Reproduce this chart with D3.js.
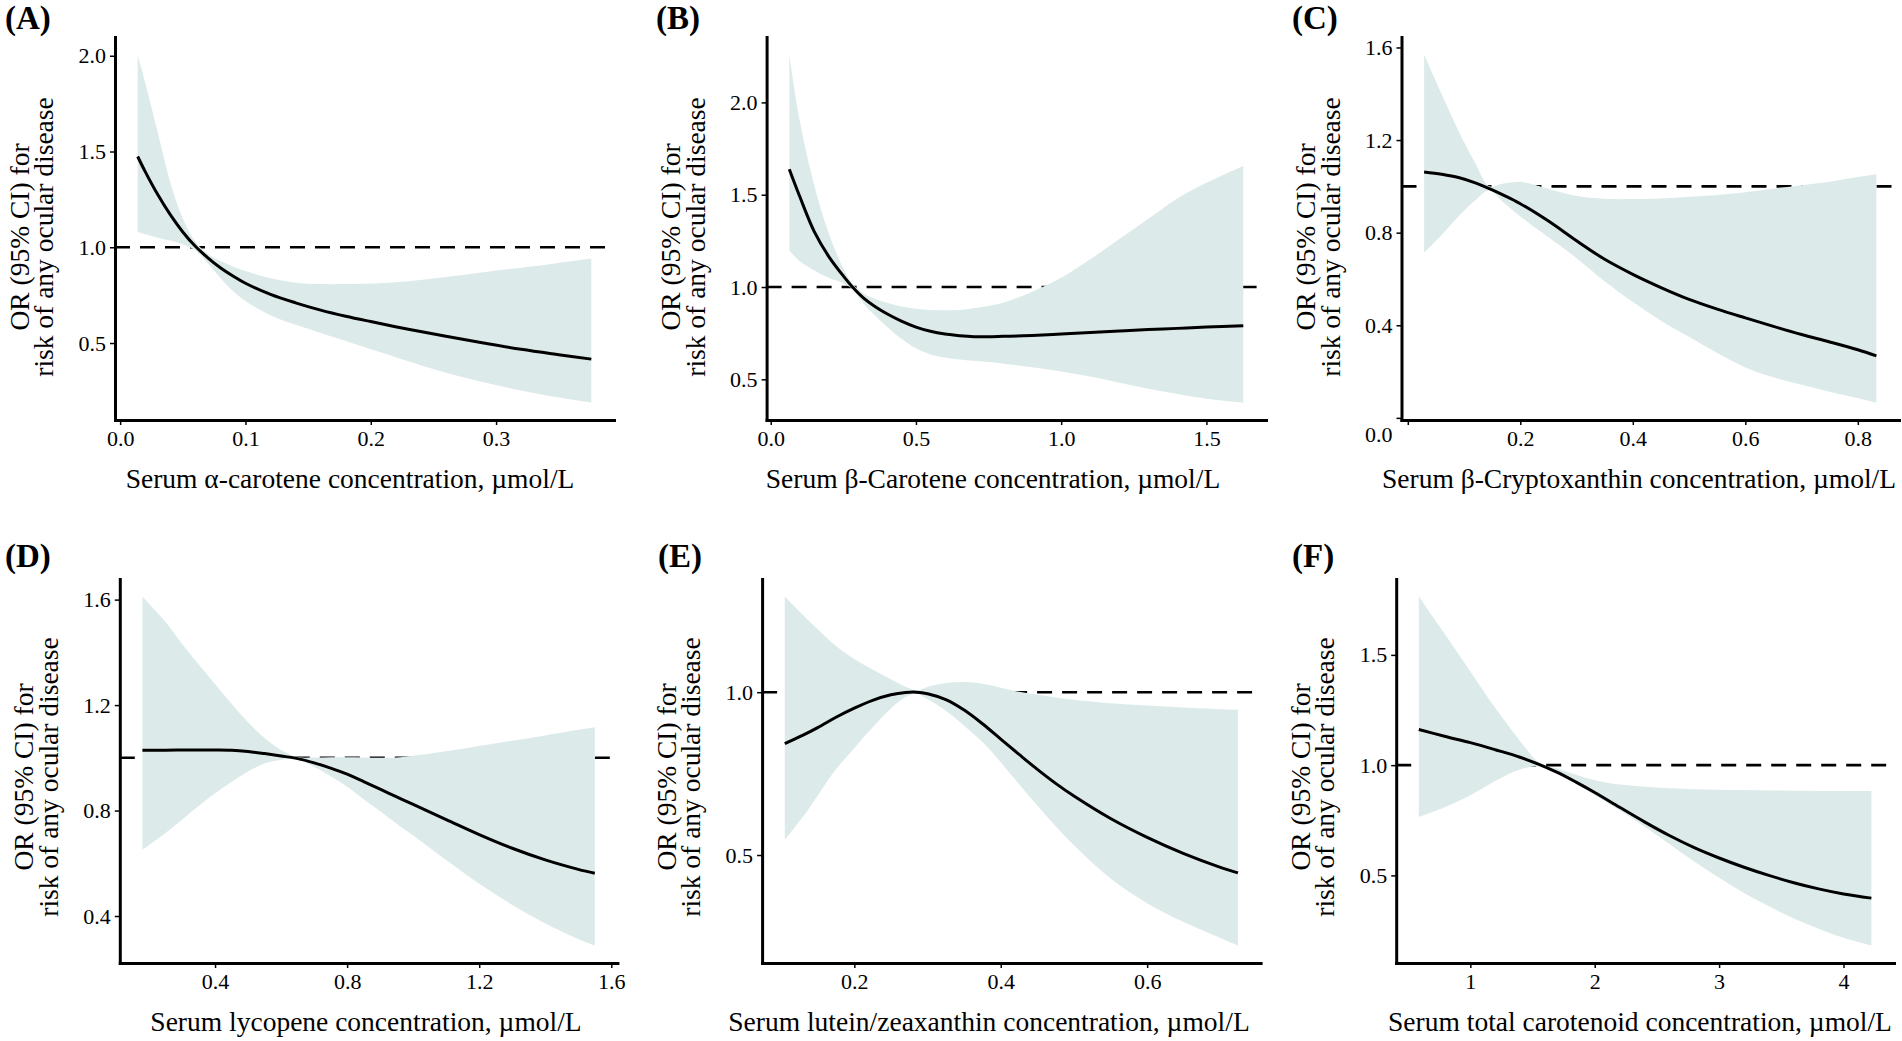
<!DOCTYPE html>
<html><head><meta charset="utf-8">
<script src="https://cdn.jsdelivr.net/npm/d3@7/dist/d3.min.js"></script>
<style>
body{margin:0;background:#fff}
svg{display:block}
text{font-family:"Liberation Serif","Times New Roman",serif;fill:#000}
</style>
</head><body>
<svg id="chart" width="1902" height="1041"></svg>
<script>
// ---------- DATA ----------
// (A) alpha-carotene
const xA   = [0.014,0.02,0.03,0.04,0.05,0.06,0.07,0.08,0.09,0.10,0.12,0.14,0.16,0.18,0.20,0.23,0.26,0.29,0.32,0.35,0.376];
const orA  = [1.474,1.395,1.275,1.17,1.08,1.005,0.945,0.893,0.85,0.812,0.754,0.71,0.672,0.64,0.612,0.572,0.535,0.50,0.467,0.439,0.416];
const hiA  = [2.007,1.86,1.60,1.34,1.15,1.03,0.965,0.928,0.9,0.876,0.838,0.815,0.808,0.808,0.811,0.823,0.845,0.87,0.893,0.918,0.941];
const loA  = [1.08,1.068,1.05,1.035,1.015,0.985,0.915,0.84,0.772,0.72,0.645,0.595,0.553,0.51,0.467,0.405,0.345,0.295,0.252,0.215,0.189];
const xTicksA = [0.0,0.1,0.2,0.3];
const yTicksA = [0.5,1.0,1.5,2.0];

// (B) beta-carotene
const xB   = [0.064,0.1,0.15,0.2,0.25,0.28,0.32,0.36,0.4,0.45,0.5,0.55,0.6,0.65,0.7,0.8,0.9,1.0,1.1,1.2,1.3,1.4,1.5,1.627];
const orB  = [1.638,1.49,1.30,1.165,1.06,1.003,0.94,0.893,0.855,0.815,0.783,0.76,0.745,0.736,0.731,0.733,0.738,0.745,0.753,0.762,0.77,0.776,0.783,0.79];
const hiB  = [2.26,1.9,1.55,1.29,1.1,1.02,0.965,0.935,0.915,0.895,0.882,0.876,0.874,0.876,0.885,0.915,0.975,1.05,1.15,1.26,1.37,1.48,1.565,1.656];
const loB  = [1.198,1.14,1.09,1.05,1.02,0.99,0.91,0.845,0.785,0.72,0.668,0.635,0.618,0.607,0.6,0.585,0.565,0.542,0.515,0.482,0.449,0.42,0.395,0.374];
const xTicksB = [0.0,0.5,1.0,1.5];
const yTicksB = [0.5,1.0,1.5,2.0];

// (C) beta-cryptoxanthin
const xC   = [0.029,0.06,0.09,0.12,0.145,0.17,0.2,0.25,0.3,0.35,0.4,0.45,0.5,0.55,0.6,0.65,0.7,0.75,0.8,0.833];
const orC  = [1.062,1.052,1.038,1.015,0.99,0.962,0.925,0.85,0.765,0.685,0.62,0.563,0.512,0.47,0.432,0.395,0.36,0.328,0.294,0.268];
const hiC  = [1.57,1.40,1.24,1.10,1.0,1.012,1.02,0.99,0.958,0.946,0.945,0.948,0.955,0.963,0.975,0.99,1.005,1.02,1.04,1.052];
const loC  = [0.714,0.79,0.87,0.94,0.982,0.93,0.87,0.78,0.69,0.59,0.50,0.42,0.35,0.28,0.218,0.175,0.143,0.113,0.085,0.066];
const xTicksC = [0.0,0.2,0.4,0.6,0.8];
const yTicksC = [0.0,0.4,0.8,1.2,1.6];

// (D) lycopene
const xD   = [0.18,0.25,0.3,0.35,0.4,0.45,0.5,0.55,0.6,0.65,0.7,0.75,0.8,0.85,0.9,0.95,1.0,1.1,1.2,1.3,1.4,1.5,1.55];
const orD  = [1.029,1.029,1.030,1.030,1.030,1.029,1.024,1.016,1.007,0.997,0.981,0.961,0.938,0.91,0.881,0.852,0.823,0.766,0.709,0.657,0.613,0.577,0.562];
const hiD  = [1.612,1.515,1.432,1.355,1.28,1.205,1.135,1.075,1.03,1.003,1.001,1.002,1.002,1.001,1.0,1.001,1.008,1.025,1.045,1.065,1.085,1.106,1.116];
const loD  = [0.651,0.715,0.765,0.817,0.866,0.908,0.948,0.978,0.993,0.993,0.966,0.93,0.89,0.843,0.797,0.75,0.705,0.612,0.522,0.442,0.372,0.313,0.288];
const xTicksD = [0.4,0.8,1.2,1.6];
const yTicksD = [0.4,0.8,1.2,1.6];

// (E) lutein/zeaxanthin
const xE   = [0.105,0.13,0.15,0.175,0.2,0.225,0.25,0.27,0.285,0.3,0.325,0.35,0.375,0.4,0.425,0.45,0.475,0.5,0.55,0.6,0.65,0.7,0.724];
const orE  = [0.842,0.868,0.891,0.923,0.951,0.975,0.992,0.999,1.0,0.995,0.977,0.945,0.903,0.856,0.809,0.763,0.72,0.681,0.612,0.554,0.504,0.462,0.445];
const hiE  = [1.294,1.237,1.193,1.142,1.102,1.07,1.04,1.017,1.006,1.016,1.028,1.031,1.026,1.014,1.001,0.992,0.984,0.977,0.966,0.959,0.953,0.948,0.946];
const loE  = [0.546,0.618,0.683,0.763,0.828,0.892,0.95,0.985,0.995,0.978,0.943,0.897,0.847,0.785,0.717,0.652,0.588,0.53,0.428,0.352,0.294,0.245,0.222];
const xTicksE = [0.2,0.4,0.6];
const yTicksE = [0.5,1.0];

// (F) total carotenoid
const xF   = [0.586,0.8,1.0,1.2,1.4,1.566,1.7,1.85,2.0,2.2,2.4,2.6,2.8,3.0,3.2,3.4,3.6,3.8,4.0,4.224];
const orF  = [1.162,1.13,1.102,1.07,1.036,1.0,0.967,0.923,0.876,0.809,0.743,0.681,0.626,0.579,0.537,0.5,0.467,0.439,0.416,0.397];
const hiF  = [1.765,1.59,1.425,1.26,1.11,1.005,0.985,0.957,0.932,0.912,0.902,0.895,0.891,0.889,0.887,0.885,0.884,0.883,0.883,0.883];
const loF  = [0.765,0.81,0.863,0.928,0.98,0.995,0.96,0.915,0.865,0.795,0.722,0.643,0.563,0.489,0.42,0.36,0.305,0.258,0.217,0.182];
const xTicksF = [1,2,3,4];
const yTicksF = [0.5,1.0,1.5];

const panelLetters = ["(A)","(B)","(C)","(D)","(E)","(F)"];
const xTitles = [
  "Serum \u03b1-carotene concentration, \u00b5mol/L",
  "Serum \u03b2-Carotene concentration, \u00b5mol/L",
  "Serum \u03b2-Cryptoxanthin concentration, \u00b5mol/L",
  "Serum lycopene concentration, \u00b5mol/L",
  "Serum lutein/zeaxanthin concentration, \u00b5mol/L",
  "Serum total carotenoid concentration, \u00b5mol/L"
];
const yTitleLines = ["OR (95% CI) for", "risk of any ocular disease"];
const refOR = 1.0;

// ---------- LAYOUT ----------
const row1 = {t: 37, b: 420, letterY: 29, yMid: 237};
const row2 = {t: 579, b: 963, letterY: 567, yMid: 777};
const panels = [
  {x:xA, or:orA, lo:loA, hi:hiA, xt:xTicksA, yt:yTicksA, xf:".1f", row:row1, l:115,   r:614,  letterX:5,    titleX:350},
  {x:xB, or:orB, lo:loB, hi:hiB, xt:xTicksB, yt:yTicksB, xf:".1f", row:row1, l:766.6, r:1266, letterX:656,  titleX:993},
  {x:xC, or:orC, lo:loC, hi:hiC, xt:xTicksC, yt:yTicksC, xf:".1f", row:row1, l:1401.5,r:1899, letterX:1292, titleX:1639, hideX0:true, nudgeY0:17},
  {x:xD, or:orD, lo:loD, hi:hiD, xt:xTicksD, yt:yTicksD, xf:".1f", row:row2, l:119.8, r:617.4,letterX:5,    titleX:366},
  {x:xE, or:orE, lo:loE, hi:hiE, xt:xTicksE, yt:yTicksE, xf:".1f", row:row2, l:762.1, r:1260.6,letterX:658, titleX:989},
  {x:xF, or:orF, lo:loF, hi:hiF, xt:xTicksF, yt:yTicksF, xf:"d",   row:row2, l:1396.2,r:1894, letterX:1292, titleX:1640}
];

const FILL = "#dcebea";
const CURVE = d3.curveCatmullRom.alpha(0.5);
const svg = d3.select("#chart");

function expand(ext){ const p = (ext[1]-ext[0])*0.05; return [ext[0]-p, ext[1]+p]; }

panels.forEach((p, i) => {
  const data = p.x.map((v, k) => ({x: v, or: p.or[k], lo: p.lo[k], hi: p.hi[k]}));
  const xs = d3.scaleLinear().domain(expand(d3.extent(p.x))).range([p.l, p.r]);
  const ys = d3.scaleLinear().domain(expand(d3.extent(p.lo.concat(p.hi)))).range([p.row.b, p.row.t]);
  const g = svg.append("g");

  // reference line (drawn below the band)
  g.append("line")
    .attr("x1", p.l).attr("x2", p.r)
    .attr("y1", ys(refOR)).attr("y2", ys(refOR))
    .attr("stroke", "#000").attr("stroke-width", 2.6)
    .attr("stroke-dasharray", "15,10");

  // CI band
  g.append("path").datum(data)
    .attr("fill", FILL)
    .attr("d", d3.area().x(d => xs(d.x)).y0(d => ys(d.lo)).y1(d => ys(d.hi)).curve(CURVE));

  // OR curve
  g.append("path").datum(data)
    .attr("fill", "none").attr("stroke", "#000").attr("stroke-width", 3)
    .attr("d", d3.line().x(d => xs(d.x)).y(d => ys(d.or)).curve(CURVE));

  // axes
  const fmt = d3.format(p.xf);
  const xAxis = g.append("g").attr("transform", `translate(0,${p.row.b})`)
    .call(d3.axisBottom(xs).tickValues(p.xt).tickSize(5).tickPadding(5).tickSizeOuter(0)
      .tickFormat(d => (p.hideX0 && d === 0) ? "" : fmt(d)));
  const yAxis = g.append("g").attr("transform", `translate(${p.l},0)`)
    .call(d3.axisLeft(ys).tickValues(p.yt).tickSize(5).tickPadding(4).tickSizeOuter(0)
      .tickFormat(d3.format(".1f")));
  [xAxis, yAxis].forEach(a => {
    a.select(".domain").attr("stroke-width", 3).attr("stroke-linecap", "square");
    a.selectAll(".tick line").attr("stroke-width", 1.5);
    a.selectAll("text").attr("font-size", 22).attr("font-family", '"Liberation Serif", serif').attr("fill", "#000");
  });
  if (p.nudgeY0) {
    yAxis.selectAll(".tick").filter(d => d === 0).select("text").attr("transform", `translate(0,${p.nudgeY0})`);
  }

  // x title
  g.append("text")
    .attr("x", p.titleX).attr("y", p.row.b + 68)
    .attr("text-anchor", "middle").attr("font-size", 27.5)
    .text(xTitles[i]);

  // y title (two lines)
  const yt = g.append("text")
    .attr("transform", `translate(${p.l - 62},${p.row.yMid}) rotate(-90)`)
    .attr("text-anchor", "middle").attr("font-size", 27.5);
  yt.append("tspan").attr("x", 0).attr("y", -24.5).text(yTitleLines[0]);
  yt.append("tspan").attr("x", 0).attr("y", 0).text(yTitleLines[1]);

  // panel letter
  g.append("text")
    .attr("x", p.letterX).attr("y", p.row.letterY)
    .attr("font-size", 33).attr("font-weight", "bold")
    .text(panelLetters[i]);
});
</script>
</body></html>
